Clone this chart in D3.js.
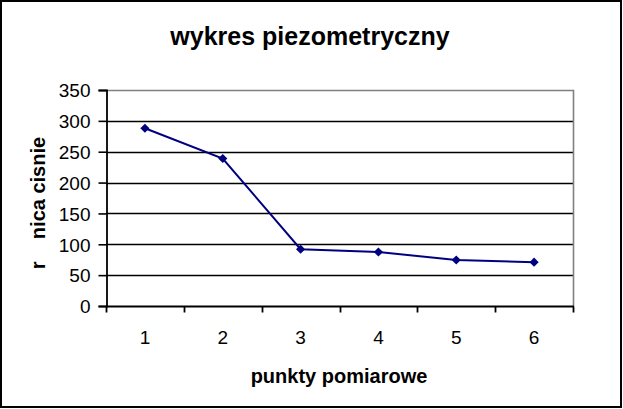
<!DOCTYPE html>
<html><head><meta charset="utf-8">
<script src="https://cdn.jsdelivr.net/npm/d3@7"></script>
<style>body{margin:0;background:#fff}svg{display:block}text{font-family:"Liberation Sans",Arial,sans-serif}</style>
</head><body>
<svg id="c" width="623" height="409"></svg>
<script>
const categories = ["1","2","3","4","5","6"];
const values = [288, 239, 92, 87.5, 74.5, 71];
const yTicks = [0,50,100,150,200,250,300,350];
const title = "wykres piezometryczny";
const xTitle = "punkty pomiarowe";
const yTitle = "r    nica cisnie";

const svg = d3.select("#c");
const L = 106, R = 573, T = 90, B = 306;
svg.append("rect").attr("x",1).attr("y",1).attr("width",620).attr("height",406)
  .attr("fill","#fff").attr("stroke","#000").attr("stroke-width",2);

const x = d3.scaleBand().domain(categories).range([L,R]);
const y = d3.scaleLinear().domain([0,350]).range([B,T]);

// gridlines
svg.append("g").selectAll("line").data(yTicks.filter(d=>d>0 && d<350)).join("line")
  .attr("x1",L).attr("x2",R).attr("y1",d=>Math.round(y(d))+0.5).attr("y2",d=>Math.round(y(d))+0.5)
  .attr("stroke","#000").attr("stroke-width",1.6);
// plot border gray (top & right)
svg.append("path").attr("d",`M${L},${T+0.5}H${R+0.5}V${B}`).attr("fill","none")
  .attr("stroke","#808080").attr("stroke-width",1.6);

// y axis
const ya = svg.append("g").attr("transform",`translate(${L+0.5},0)`)
  .call(d3.axisLeft(y).tickValues(yTicks).tickSize(8).tickPadding(8));
ya.select(".domain").attr("stroke","#000").attr("stroke-width",1.8);
ya.selectAll(".tick line").attr("stroke","#000").attr("stroke-width",1.6);
ya.selectAll("text").attr("font-size",19).attr("fill","#000").attr("dy","0.36em")
  .attr("font-family","Liberation Sans, Arial, sans-serif");

// x axis
const xa = svg.append("g").attr("transform",`translate(0,${B+0.5})`)
  .call(d3.axisBottom(x).tickSize(0).tickPadding(0));
xa.select(".domain").remove();
xa.append("line").attr("x1",L).attr("x2",R+1).attr("stroke","#000").attr("stroke-width",1.8);
xa.selectAll("g.b").data(categories.map(c=>x(c)).concat([R])).join("line")
  .attr("x1",d=>Math.round(d)+0.5).attr("x2",d=>Math.round(d)+0.5).attr("y1",0).attr("y2",6)
  .attr("stroke","#000").attr("stroke-width",1.8);
xa.selectAll("text").attr("font-size",19).attr("fill","#000").attr("dy",null).attr("y",37.5)
  .attr("font-family","Liberation Sans, Arial, sans-serif");

// line
const cx = d=>x(d)+x.bandwidth()/2;
svg.append("path").datum(values).attr("fill","none").attr("stroke","#000080").attr("stroke-width",2)
  .attr("d",d3.line().x((d,i)=>cx(categories[i])).y(d=>y(d)));
svg.append("g").selectAll("path").data(values).join("path")
  .attr("transform",(d,i)=>`translate(${cx(categories[i])},${y(d)}) rotate(45)`)
  .attr("d",d3.symbol().type(d3.symbolSquare).size(42)).attr("fill","#000080");

// titles
svg.append("text").attr("x",310).attr("y",45).attr("text-anchor","middle")
  .attr("font-size",25).attr("font-weight","bold").text(title);
svg.append("text").attr("x",339).attr("y",383).attr("text-anchor","middle")
  .attr("font-size",20).attr("font-weight","bold").text(xTitle);
svg.append("text").attr("transform","translate(45,203) rotate(-90)").attr("text-anchor","middle")
  .attr("font-size",20).attr("font-weight","bold").style("white-space","pre").text(yTitle);
</script>
</body></html>
